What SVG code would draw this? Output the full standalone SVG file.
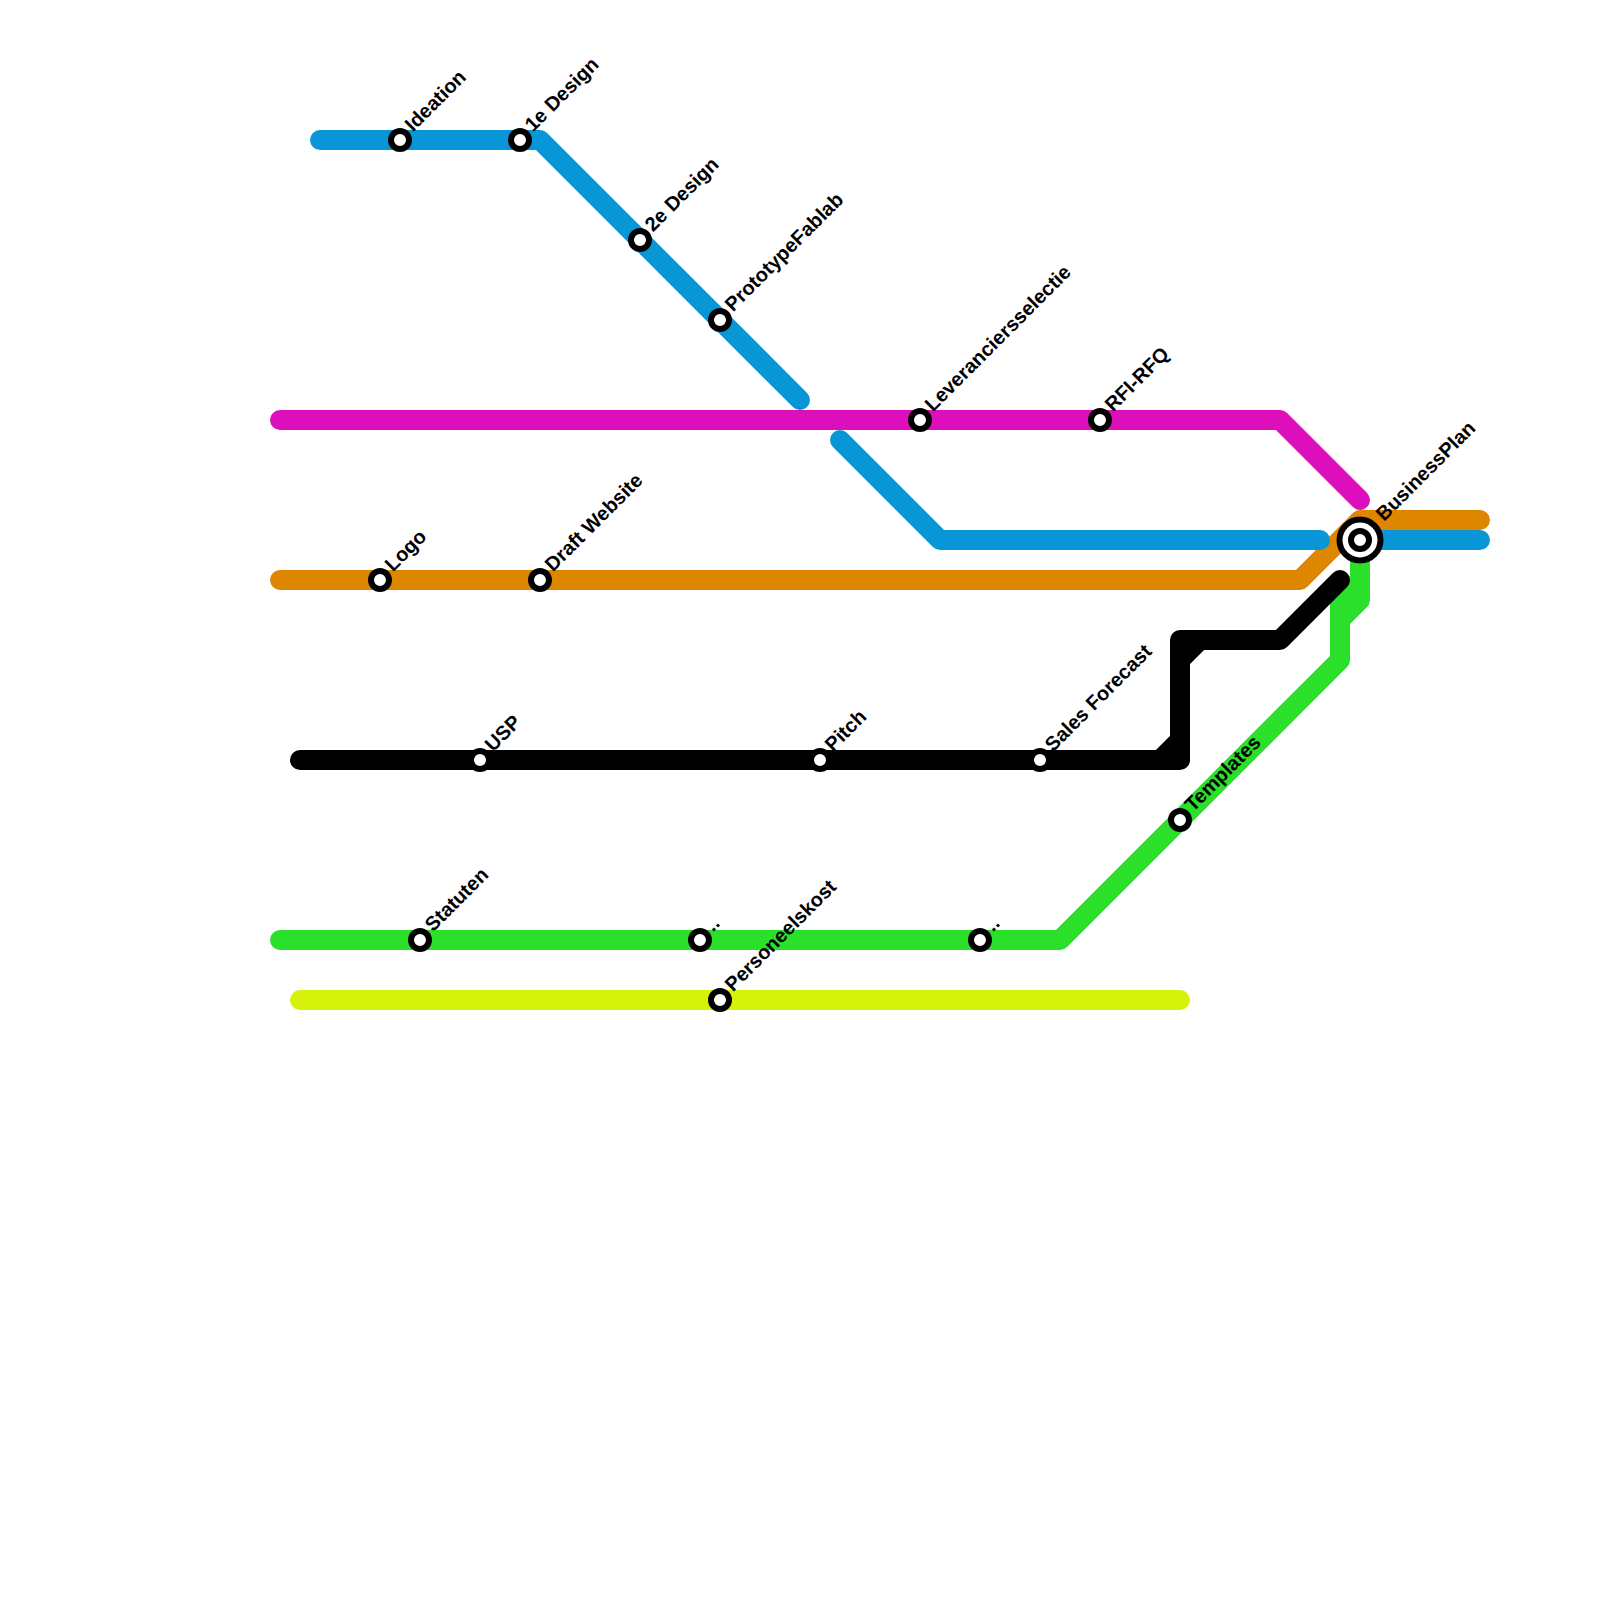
<svg xmlns="http://www.w3.org/2000/svg" width="1600" height="1600" viewBox="0 0 1600 1600">
<style>
.l{fill:none;stroke-width:20;stroke-linecap:round;stroke-linejoin:round}
.s{fill:#fff;stroke:#000;stroke-width:6}
.t{font-family:"Liberation Sans",Arial,sans-serif;font-size:20px;font-weight:700;fill:#000;text-rendering:geometricPrecision}
</style>
<rect width="1600" height="1600" fill="#fff"/>
<g id="connectors">
<path class="l" stroke="#2ae02a" d="M280 940H1060L1340 660V600L1360 580V600L1340 620M1360 600V540"/>
<path class="l" stroke="#d5f30a" d="M300 1000H1180"/>
<path class="l" stroke="#de8600" d="M280 580H1300L1360 520H1480"/>
<path class="l" stroke="#dd0fbc" d="M280 420H1280L1360 500"/>
<path class="l" stroke="#0896d7" d="M320 140H540L800 400M840 440L940 540H1320M1360 540H1480"/>
<path class="l" stroke="#000" d="M300 760H1180V640H1280L1340 580M1180 660L1200 640M1160 760L1180 740"/>
</g>
<g id="n-ideation"><circle class="s" cx="400" cy="140" r="9"/><text class="t" transform="translate(413 132.500) rotate(-45)">Ideation</text></g>
<g id="n-design1"><circle class="s" cx="520" cy="140" r="9"/><text class="t" transform="translate(533 132.500) rotate(-45)">1e Design</text></g>
<g id="n-design2"><circle class="s" cx="640" cy="240" r="9"/><text class="t" transform="translate(653 232.500) rotate(-45)">2e Design</text></g>
<g id="n-prototype"><circle class="s" cx="720" cy="320" r="9"/><text class="t" transform="translate(733 312.500) rotate(-45)">PrototypeFablab</text></g>
<g id="n-leverancier"><circle class="s" cx="920" cy="420" r="9"/><text class="t" transform="translate(933 412.500) rotate(-45)">Leveranciersselectie</text></g>
<g id="n-rfi"><circle class="s" cx="1100" cy="420" r="9"/><text class="t" transform="translate(1113 412.500) rotate(-45)">RFI-RFQ</text></g>
<g id="n-logo"><circle class="s" cx="380" cy="580" r="9"/><text class="t" transform="translate(393 572.500) rotate(-45)">Logo</text></g>
<g id="n-website"><circle class="s" cx="540" cy="580" r="9"/><text class="t" transform="translate(553 572.500) rotate(-45)">Draft Website</text></g>
<g id="n-usp"><circle class="s" cx="480" cy="760" r="9"/><text class="t" transform="translate(493 752.500) rotate(-45)">USP</text></g>
<g id="n-pitch"><circle class="s" cx="820" cy="760" r="9"/><text class="t" transform="translate(833 752.500) rotate(-45)">Pitch</text></g>
<g id="n-sales"><circle class="s" cx="1040" cy="760" r="9"/><text class="t" transform="translate(1053 752.500) rotate(-45)">Sales Forecast</text></g>
<g id="n-templates"><circle class="s" cx="1180" cy="820" r="9"/><text class="t" transform="translate(1193 812.500) rotate(-45)">Templates</text></g>
<g id="n-statuten"><circle class="s" cx="420" cy="940" r="9"/><text class="t" transform="translate(433 932.500) rotate(-45)">Statuten</text></g>
<g id="n-dots1"><circle class="s" cx="700" cy="940" r="9"/><text class="t" transform="translate(713 932.500) rotate(-45)">..</text></g>
<g id="n-dots2"><circle class="s" cx="980" cy="940" r="9"/><text class="t" transform="translate(993 932.500) rotate(-45)">..</text></g>
<g id="n-personeel"><circle class="s" cx="720" cy="1000" r="9"/><text class="t" transform="translate(733 992.500) rotate(-45)">Personeelskost</text></g>
<g id="n-business"><circle class="s" cx="1360" cy="540" r="20.5"/><circle class="s" cx="1360" cy="540" r="9"/><text class="t" transform="translate(1384 522) rotate(-45)">BusinessPlan</text></g>
</svg>
